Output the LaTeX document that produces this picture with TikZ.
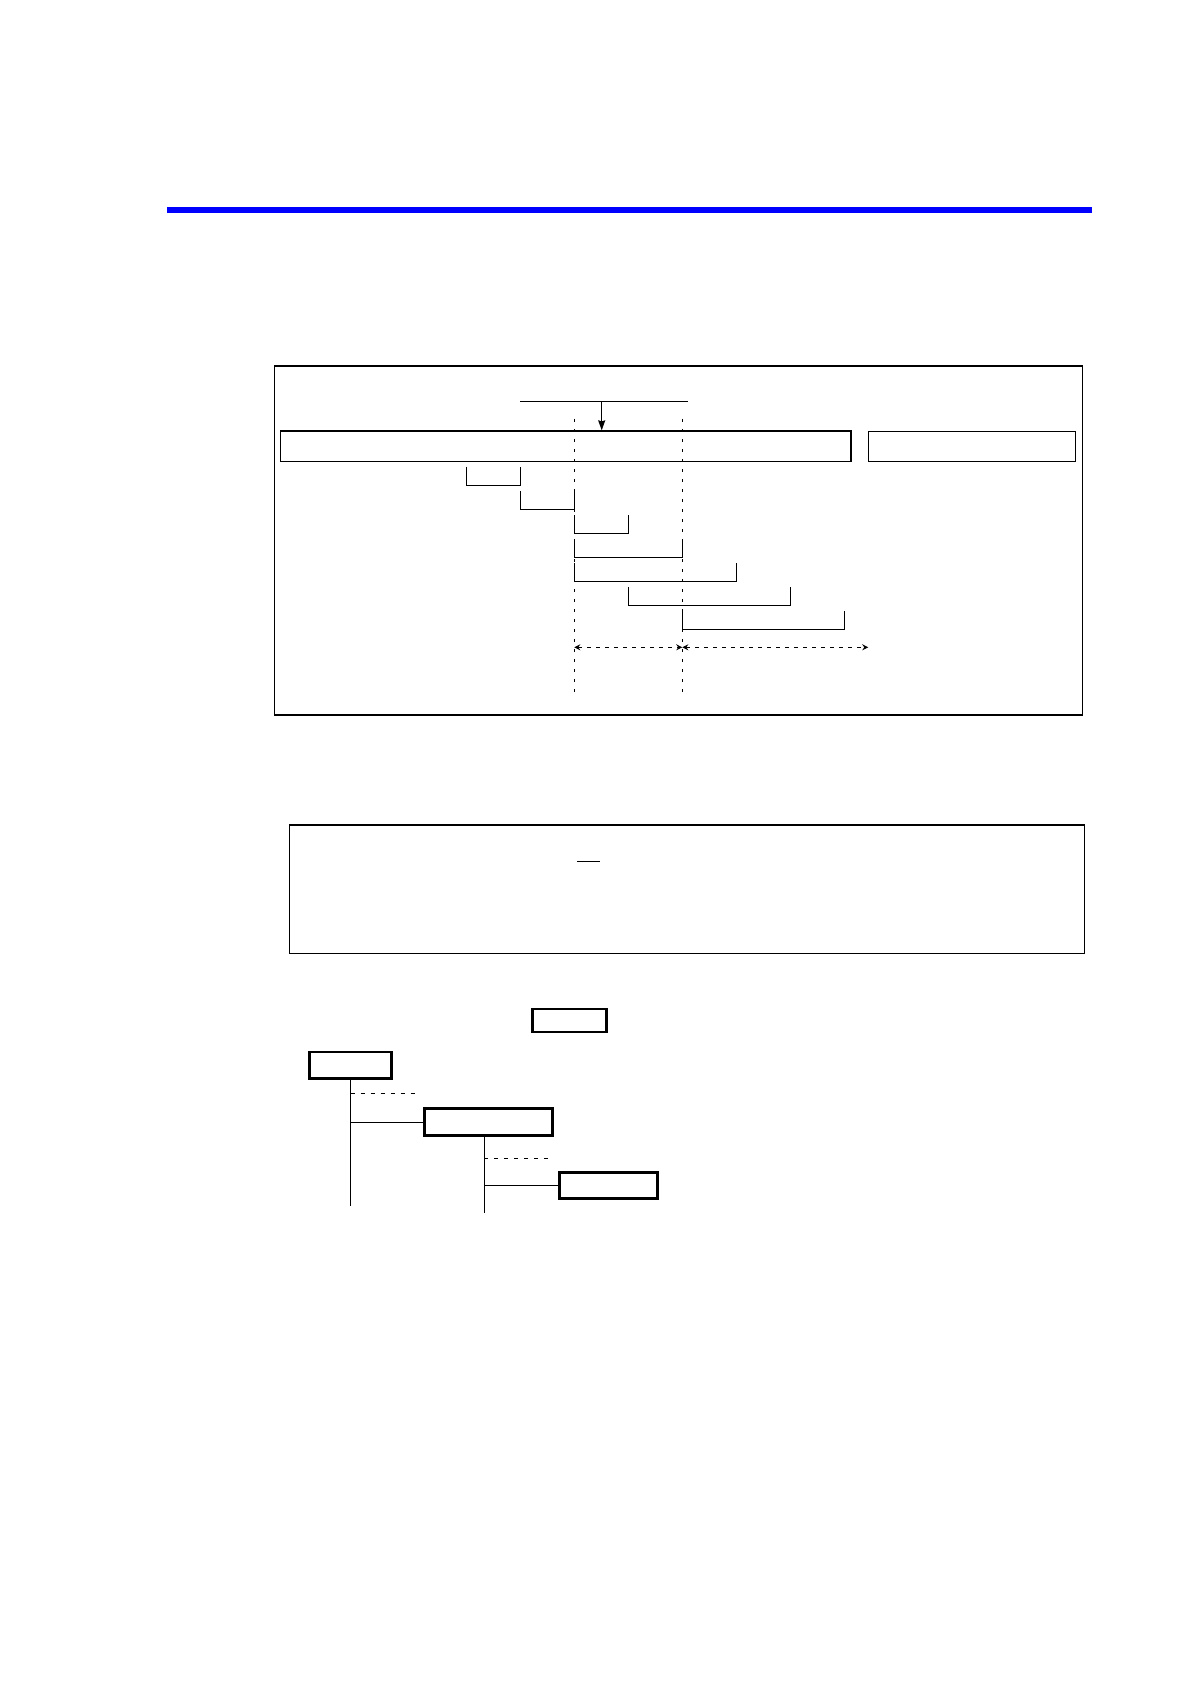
\documentclass[tikz,border=0pt]{standalone}
\usetikzlibrary{calc}
\usetikzlibrary{arrows.meta}

\tikzset{
	panel/.style = {draw, line width=.6pt},
	slab/.style = {draw, line width=.6pt, inner sep=0pt},
	treebox/.style = {draw, line width=1.3pt, inner sep=0pt},
	guide/.style = {line width=.5pt, dash pattern=on 1.5pt off 3.5pt},
	span/.style = {line width=.5pt, dash pattern=on 2pt off 2.5pt, {Stealth[length=3pt,width=3pt]}-{Stealth[length=3pt,width=3pt]}},
	dashlink/.style = {line width=.5pt, dash pattern=on 2pt off 3pt}
}

\begin{document}
\begin{tikzpicture}[x=.5pt, y=-.5pt]
	\useasboundingbox (0,0) rectangle (1190,1684);
	\fill [blue] (166.7,207) rectangle (1092,213);

	% upper panel
	\draw [panel] (274.3,366) rectangle (1082.3,715);
	\node [slab, minimum width=285.4pt, minimum height=15.2pt] (bar) at (565.65,446.15) {};
	\node [slab, minimum width=103.7pt, minimum height=14.8pt] (side) at (972,446.5) {};
	\draw [line width=.6pt] (520,401.3) -- (687.7,401.3);
	\coordinate (feed) at (601.7,401.3);
	\draw [line width=.6pt, -{Stealth[length=5pt,width=3.5pt,inset=.5pt]}] (feed) -- (feed |- bar.north);

	\coordinate (ga) at (574.3,419);
	\coordinate (gb) at (682.3,419);
	\draw [guide] (ga) -- (574.3,698);
	\draw [guide] (gb) -- (682.3,698);

	\foreach \l/\r [count=\i from 0] in {466.7/520.3, 520.3/574.3, 574.3/628.3, 574.3/682.3, 574.3/736.7, 628.3/790.7, 682.3/844.3}
		\draw [line width=.6pt] (\l,466.7+24.05*\i) -- ++(0,18.7) -| (\r,466.7+24.05*\i);

	\coordinate (sa) at (574.3,647.3);
	\coordinate (sb) at (682.3,647.3);
	\coordinate (sc) at (868.3,647.3);
	\draw [span] (sa) -- (sb);
	\draw [span] (sb) -- (sc);

	% lower panel
	\draw [panel] (289.3,825) rectangle (1084.3,953.3);
	\draw [line width=.7pt] (577,861.7) -- (599.7,861.7);

	% tree
	\node [treebox, minimum width=37pt, minimum height=11.4pt] (A) at (569.3,1020.5) {};
	\node [treebox, minimum width=41pt, minimum height=13.4pt] (B) at (350.3,1065.3) {};
	\node [treebox, minimum width=64pt, minimum height=13.6pt] (C) at (488.5,1122) {};
	\node [treebox, minimum width=49pt, minimum height=13.2pt] (D) at (608.3,1185.5) {};

	\coordinate (btrunk) at (350.5,1205.7);
	\coordinate (ctrunk) at (484,1213);
	\draw [line width=.5pt] (btrunk |- B.south) -- (btrunk);
	\draw [dashlink] (350.5,1093) -- (418,1093);
	\draw [line width=.5pt] (btrunk |- C.west) -- (C.west);
	\draw [line width=.5pt] (ctrunk |- C.south) -- (ctrunk);
	\draw [dashlink] (484,1158) -- (553,1158);
	\draw [line width=.5pt] (ctrunk |- D.west) -- (D.west);
\end{tikzpicture}
\end{document}
